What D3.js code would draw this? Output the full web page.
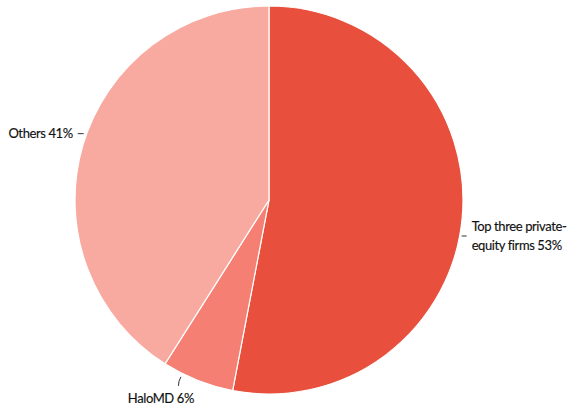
<!DOCTYPE html>
<html><head><meta charset="utf-8">
<script src="https://cdn.jsdelivr.net/npm/d3@7/dist/d3.min.js"></script>
<style>
html,body{margin:0;padding:0;background:#fff;}
svg{display:block;}
text{font-family:Lato,"Open Sans",sans-serif;font-size:13px;fill:#111;letter-spacing:-0.4px;stroke:#111;stroke-width:0.15px;}
</style></head>
<body><svg id="chart" width="569" height="406"></svg>
<script>
const categories = ["Top three private-equity firms", "HaloMD", "Others"];
const labelLines = [["Top three private-", "equity firms 53%"], ["HaloMD 6%"], ["Others 41%"]];
const values = [53, 6, 41];
const colors = ["#e84f3d", "#f47f72", "#f8aaa1"];
const labelAnglesDeg = [100.7, 207, 290];

const W = 569, H = 406, cx = 269, cy = 200, R = 194;
const svg = d3.select("#chart");
const g = svg.append("g").attr("transform", `translate(${cx},${cy})`);

const pie = d3.pie().sort(null).value(d => d)(values);
const arc = d3.arc().innerRadius(0).outerRadius(R);
const color = d3.scaleOrdinal().domain(categories).range(colors);

g.selectAll("path").data(pie).join("path")
  .attr("d", arc)
  .attr("fill", (d, i) => color(categories[i]))
  .attr("stroke", "#fff")
  .attr("stroke-width", 1.2);

function pt(deg, r) {
  const a = deg * Math.PI / 180;
  return [r * Math.sin(a), -r * Math.cos(a)];
}

// Top three label
{
  const [x, y] = pt(labelAnglesDeg[0], R);
  g.append("line").attr("x1", x + 2).attr("x2", x + 7).attr("y1", y).attr("y2", y)
    .attr("stroke", "#333").attr("stroke-width", 1);
  const t = g.append("text").attr("x", x + 12).attr("y", y - 5);
  labelLines[0].forEach((s, k) => t.append("tspan").attr("x", x + 12).attr("dy", k === 0 ? 0 : 19).text(s));
}
// HaloMD label
{
  const [x, y] = pt(labelAnglesDeg[1], R);
  g.append("path").attr("d", `M${x},${y + 4} Q${x - 2.5},${y + 8} ${x - 2.5},${y + 13}`)
    .attr("fill", "none").attr("stroke", "#333").attr("stroke-width", 1);
  g.append("text").attr("x", x + 13).attr("y", y + 30).attr("text-anchor", "end").text(labelLines[1][0]);
}
// Others label
{
  const [x, y] = pt(labelAnglesDeg[2], R);
  g.append("line").attr("x1", x - 3).attr("x2", x - 9).attr("y1", y).attr("y2", y)
    .attr("stroke", "#333").attr("stroke-width", 1);
  g.append("text").attr("x", x - 14).attr("y", y + 4.5).attr("text-anchor", "end").text(labelLines[2][0]);
}
</script></body></html>
